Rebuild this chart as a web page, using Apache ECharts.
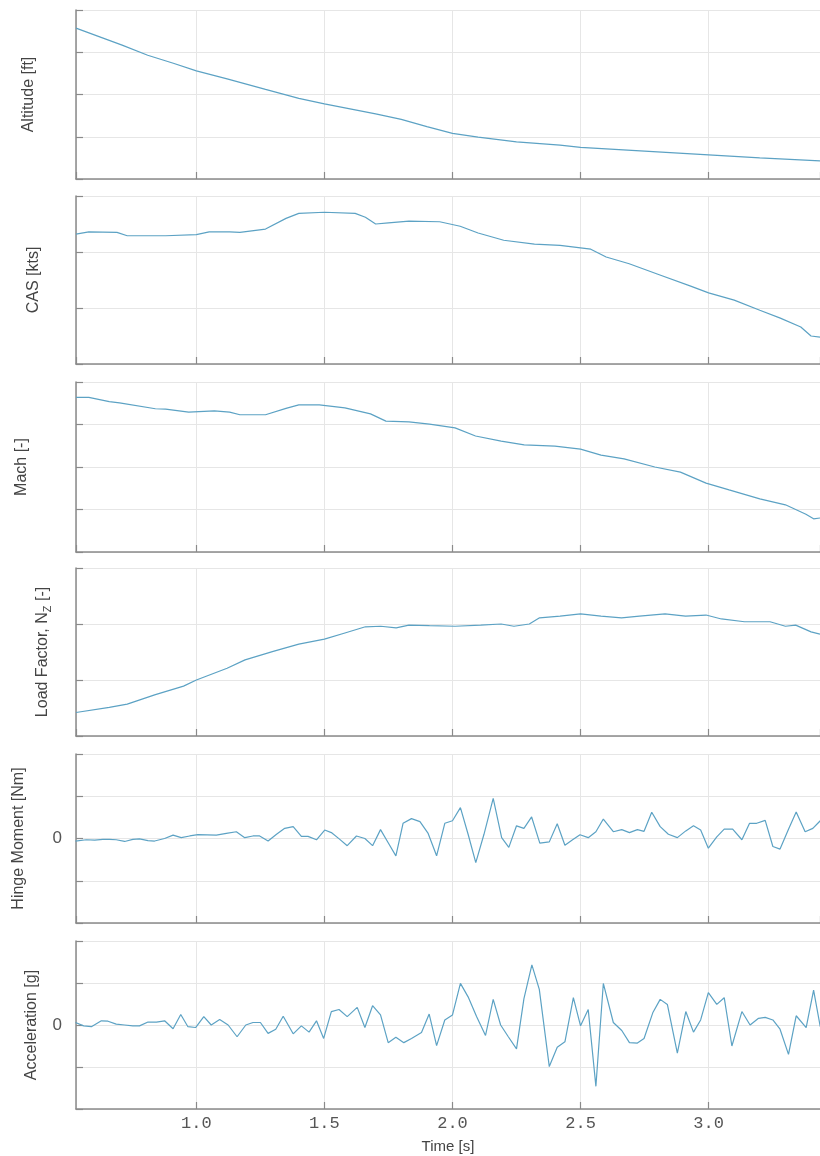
<!DOCTYPE html>
<html>
<head>
<meta charset="utf-8">
<script src="https://cdn.jsdelivr.net/npm/echarts@6/dist/echarts.min.js"></script>
<style>html,body{margin:0;padding:0;background:#fff;}#c{width:820px;height:1156px;}</style>
</head>
<body>
<div id="c"></div>
<script>
// ---- Data (y in grid units) ----
const xTickLabels = ['1.0', '1.5', '2.0', '2.5', '3.0'];

const altitudeTime = [0.53,0.62,0.71,0.81,0.91,1.00,1.12,1.27,1.40,1.50,1.60,1.70,1.80,1.90,2.00,2.10,2.25,2.42,2.50,2.75,3.00,3.20,3.435];
const altitudeValues = [3.57,3.37,3.17,2.93,2.74,2.56,2.37,2.12,1.91,1.78,1.66,1.54,1.41,1.24,1.08,0.99,0.88,0.80,0.75,0.66,0.57,0.50,0.43];

const casTime = [0.53,0.58,0.69,0.73,0.88,1.00,1.05,1.13,1.17,1.27,1.35,1.40,1.50,1.62,1.66,1.70,1.75,1.83,1.95,2.03,2.10,2.20,2.32,2.42,2.54,2.60,2.69,2.81,2.93,3.00,3.10,3.20,3.28,3.36,3.40,3.435];
const casValues = [2.32,2.36,2.35,2.29,2.29,2.31,2.36,2.36,2.35,2.41,2.60,2.69,2.71,2.69,2.62,2.50,2.52,2.55,2.54,2.46,2.34,2.21,2.14,2.12,2.05,1.91,1.79,1.59,1.39,1.27,1.14,0.96,0.82,0.66,0.50,0.48];

const machTime = [0.53,0.58,0.66,0.70,0.84,0.88,0.97,1.07,1.13,1.17,1.27,1.35,1.40,1.48,1.58,1.68,1.74,1.83,1.91,2.01,2.09,2.19,2.28,2.40,2.50,2.58,2.67,2.79,2.89,2.99,3.08,3.20,3.30,3.38,3.41,3.435];
const machValues = [3.64,3.64,3.54,3.51,3.37,3.36,3.29,3.32,3.29,3.23,3.23,3.38,3.46,3.46,3.39,3.25,3.08,3.06,3.01,2.92,2.73,2.61,2.52,2.49,2.42,2.28,2.19,2.00,1.88,1.62,1.46,1.25,1.11,0.89,0.78,0.80];

const loadTime = [0.53,0.66,0.73,0.84,0.95,1.00,1.12,1.19,1.30,1.40,1.50,1.58,1.66,1.72,1.78,1.83,1.91,2.01,2.11,2.19,2.24,2.30,2.34,2.42,2.50,2.58,2.66,2.73,2.83,2.91,2.99,3.05,3.14,3.24,3.30,3.34,3.40,3.435];
const loadValues = [0.42,0.51,0.57,0.74,0.89,1.00,1.21,1.36,1.51,1.64,1.73,1.84,1.95,1.96,1.93,1.98,1.97,1.96,1.98,2.00,1.96,2.00,2.11,2.14,2.18,2.14,2.11,2.14,2.18,2.14,2.16,2.09,2.04,2.04,1.96,1.98,1.86,1.82];

const hingeTime = [0.528,0.570,0.603,0.635,0.661,0.687,0.720,0.752,0.778,0.811,0.837,0.876,0.909,0.941,0.974,1.006,1.078,1.117,1.156,1.189,1.221,1.247,1.280,1.313,1.345,1.378,1.410,1.436,1.469,1.501,1.527,1.560,1.589,1.625,1.658,1.688,1.719,1.749,1.779,1.807,1.840,1.873,1.905,1.938,1.970,
  2.000,2.031,2.061,2.091,2.123,2.159,2.192,2.220,2.250,2.279,2.309,2.341,2.378,2.409,2.439,2.469,2.498,2.530,2.560,2.589,2.628,2.661,2.691,2.722,2.748,2.778,2.811,2.843,2.878,2.911,2.941,2.969,2.999,3.032,3.061,3.094,3.130,3.160,3.188,3.221,3.251,3.279,3.312,3.342,3.377,3.407,3.436];
const hingeValues = [-0.06,-0.03,-0.04,-0.02,-0.02,-0.03,-0.07,-0.02,-0.01,-0.05,-0.06,0.00,0.08,0.02,0.06,0.09,0.08,0.12,0.16,0.02,0.06,0.06,-0.06,0.10,0.24,0.28,0.05,0.05,-0.03,0.20,0.14,-0.02,-0.17,0.06,0.00,-0.17,0.21,-0.10,-0.41,0.36,0.47,0.40,0.12,-0.41,0.36,
  0.42,0.73,0.10,-0.57,0.10,0.95,0.02,-0.21,0.30,0.24,0.51,-0.11,-0.08,0.35,-0.16,-0.03,0.09,0.02,0.16,0.46,0.16,0.21,0.14,0.21,0.17,0.62,0.28,0.10,0.02,0.18,0.30,0.20,-0.23,0.04,0.22,0.22,-0.03,0.36,0.36,0.43,-0.19,-0.25,0.22,0.63,0.16,0.24,0.42];

const accelTime = [0.528,0.560,0.590,0.629,0.655,0.687,0.720,0.752,0.778,0.811,0.844,0.876,0.909,0.939,0.967,0.997,1.029,1.058,1.091,1.124,1.159,1.193,1.221,1.250,1.280,1.310,1.339,1.378,1.410,1.440,1.469,1.497,1.527,1.557,1.589,1.628,1.658,1.688,1.719,1.749,1.779,1.810,1.840,1.879,1.909,1.938,1.970,
  2.000,2.031,2.061,2.094,2.129,2.159,2.188,2.218,2.250,2.279,2.310,2.339,2.378,2.409,2.439,2.472,2.500,2.530,2.560,2.589,2.628,2.661,2.691,2.722,2.748,2.782,2.811,2.839,2.878,2.911,2.941,2.969,2.999,3.032,3.061,3.091,3.130,3.162,3.195,3.221,3.251,3.279,3.312,3.342,3.381,3.410,3.436];
const accelValues = [0.06,-0.02,-0.04,0.10,0.09,0.02,0.00,-0.02,-0.02,0.07,0.07,0.10,-0.09,0.25,-0.04,-0.06,0.20,0.00,0.13,0.00,-0.28,0.00,0.06,0.06,-0.20,-0.10,0.21,-0.21,-0.02,-0.17,0.10,-0.32,0.32,0.37,0.20,0.42,-0.06,0.46,0.24,-0.42,-0.29,-0.42,-0.32,-0.18,0.26,-0.49,0.12,
  0.24,0.99,0.67,0.20,-0.25,0.61,0.00,-0.28,-0.57,0.63,1.43,0.85,-0.99,-0.53,-0.40,0.65,-0.02,0.37,-1.46,0.99,0.06,-0.13,-0.42,-0.43,-0.32,0.29,0.61,0.49,-0.67,0.32,-0.17,0.12,0.77,0.49,0.65,-0.50,0.32,0.00,0.16,0.18,0.12,-0.10,-0.70,0.22,-0.06,0.83,-0.04];

const panelNames = ['Altitude [ft]', 'CAS [kts]', 'Mach [-]', 'Load Factor, N{sub|Z} [-]', 'Hinge Moment [Nm]', 'Acceleration [g]'];
const yMin = [0, 0, 0, 0, -2, -2];
const yMax = [4, 3, 4, 3, 2, 2];

// ---- Layout / style ----
const panels = [
  {t: altitudeTime, v: altitudeValues, top: 10, h: 169, gap: 37},
  {t: casTime, v: casValues, top: 196, h: 168, gap: 32},
  {t: machTime, v: machValues, top: 382, h: 170, gap: 44},
  {t: loadTime, v: loadValues, top: 568, h: 168, gap: 23},
  {t: hingeTime, v: hingeValues, top: 754, h: 169, gap: 47},
  {t: accelTime, v: accelValues, top: 941, h: 168, gap: 29}
];
const AXIS = '#8a8a8a', GRIDC = '#e6e6e6', LINE = '#5ca2c4';

const grid = [], xAxis = [], yAxis = [], series = [];
panels.forEach((p, i) => {
  const last = i === panels.length - 1;
  const hasZero = yMin[i] < 0;
  grid.push({left: 76, right: 0, top: p.top, height: p.h});
  xAxis.push({
    gridIndex: i, type: 'value', min: 0.53, max: 3.435, splitNumber: 5,
    axisLine: {show: true, onZero: false, lineStyle: {color: AXIS, width: 1.5}},
    axisTick: {show: true, inside: true, length: 7, lineStyle: {color: AXIS, width: 1.2}},
    splitLine: {show: true, lineStyle: {color: GRIDC, width: 1}},
    axisLabel: {
      show: last, showMinLabel: false, showMaxLabel: false, margin: 6,
      fontFamily: 'Liberation Mono', fontSize: 17, color: '#555',
      formatter: v => { const s = v.toFixed(1); return xTickLabels.indexOf(s) >= 0 ? s : ''; }
    },
    name: last ? 'Time [s]' : '', nameLocation: 'middle', nameGap: 30,
    nameTextStyle: {fontFamily: 'Liberation Sans', fontSize: 15, color: '#444'}
  });
  yAxis.push({
    gridIndex: i, type: 'value', min: yMin[i], max: yMax[i], interval: 1,
    axisLine: {show: true, onZero: false, lineStyle: {color: AXIS, width: 1.5}},
    axisTick: {show: true, inside: true, length: 7, lineStyle: {color: AXIS, width: 1.2}},
    splitLine: {show: true, lineStyle: {color: GRIDC, width: 1}},
    axisLabel: {
      show: hasZero, margin: 14, fontFamily: 'Liberation Sans', fontSize: 17, color: '#555',
      formatter: v => (v === 0 ? '0' : '')
    },
    name: panelNames[i], nameLocation: 'middle', nameGap: p.gap,
    nameTextStyle: {
      fontFamily: 'Liberation Sans', fontSize: 16, color: '#444', lineHeight: 20,
      rich: {sub: {fontFamily: 'Liberation Sans', fontSize: 11, color: '#444', lineHeight: 8, verticalAlign: 'bottom'}}
    }
  });
  series.push({
    type: 'line', xAxisIndex: i, yAxisIndex: i,
    data: p.t.map((t, k) => [t, p.v[k]]),
    symbol: 'none', showSymbol: false, clip: true,
    lineStyle: {color: LINE, width: 1.2}
  });
});

const chart = echarts.init(document.getElementById('c'), null, {renderer: 'canvas'});
chart.setOption({animation: false, backgroundColor: '#fff', grid, xAxis, yAxis, series});
</script>
</body>
</html>
